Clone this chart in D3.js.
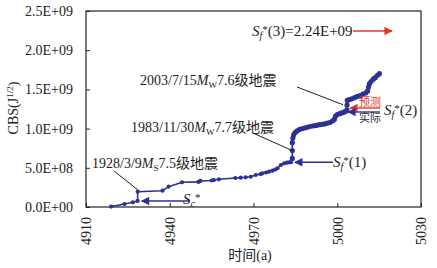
<!DOCTYPE html>
<html>
<head>
<meta charset="utf-8">
<script src="https://cdn.jsdelivr.net/npm/d3@7"></script>
<style>
  body { margin: 0; background: #fff; }
  text { font-family: "Liberation Serif", "Noto Sans CJK SC", serif; }
</style>
</head>
<body>
<div id="chart"></div>
<script>
// year (a) and cumulative Benioff strain
const years = [4919.0, 4923.8, 4926.8, 4928.5, 4928.5, 4937.4, 4939.6, 4944.4, 4950.3, 4951.0,
  4955.0, 4955.8, 4957.6, 4963.5, 4965.4, 4967.2, 4969.0, 4970.8, 4972.5, 4973.2,
  4974.5, 4975.6, 4976.8, 4977.8, 4978.6, 4979.8, 4981.0, 4982.0, 4982.8, 4983.4,
  4983.9, 4983.9, 4983.9, 4984.1, 4984.4, 4984.9, 4985.6, 4986.5, 4987.5, 4988.5,
  4989.5, 4990.5, 4991.5, 4992.5, 4993.5, 4994.5, 4995.5, 4996.5, 4997.5, 4998.4,
  4999.0, 4999.4, 5000.0, 5000.8, 5001.6, 5002.4, 5003.0, 5003.5, 5003.5, 5003.6,
  5004.3, 5005.2, 5006.2, 5007.2, 5008.2, 5009.2, 5010.2, 5010.9, 5011.2, 5011.5,
  5012.1, 5012.9, 5013.6, 5014.4, 5015.1];
const cbs = [0.005, 0.038, 0.06, 0.077, 0.195, 0.208, 0.26, 0.315, 0.32, 0.332,
  0.338, 0.344, 0.353, 0.37, 0.374, 0.379, 0.386, 0.408, 0.42, 0.43,
  0.44, 0.45, 0.463, 0.478, 0.494, 0.536, 0.557, 0.565, 0.57, 0.572,
  0.62, 0.72, 0.82, 0.88, 0.92, 0.95, 0.97, 0.99, 1.00, 1.01,
  1.02, 1.03, 1.035, 1.04, 1.05, 1.055, 1.06, 1.07, 1.08, 1.10,
  1.12, 1.16, 1.18, 1.19, 1.20, 1.21, 1.22, 1.24, 1.30, 1.36,
  1.37, 1.38, 1.395, 1.41, 1.42, 1.44, 1.455, 1.48, 1.53, 1.57,
  1.60, 1.63, 1.65, 1.68, 1.70].map(v => v * 1e9);

const xTicks = [4910, 4940, 4970, 5000, 5030];
const yTicks = [0, 5e8, 1e9, 1.5e9, 2e9, 2.5e9];

// marker levels used by the annotations
const scStar = 0.077e9;
const sf1 = 0.57e9;
const sf2 = 1.24e9;
const sf3 = 2.24e9;

const width = 437, height = 268;
const margin = {top: 11, right: 16, bottom: 61, left: 86};
const blue = "#2d3194", red = "#e0392b";

const svg = d3.select("#chart").append("svg")
  .attr("width", width).attr("height", height);

const x = d3.scaleLinear().domain([4910, 5030]).range([margin.left, width - margin.right]);
const y = d3.scaleLinear().domain([0, 2.5e9]).range([height - margin.bottom, margin.top]);

function sci(d) {
  if (d === 0) return "0.0E+00";
  const e = Math.floor(Math.log10(d));
  const m = d / Math.pow(10, e);
  return m.toFixed(1) + "E+" + String(e).padStart(2, "0");
}

// y axis
const yAxis = svg.append("g")
  .attr("transform", "translate(" + margin.left + ",0)")
  .call(d3.axisLeft(y).tickValues(yTicks).tickFormat(sci).tickSize(-4).tickPadding(13));
yAxis.selectAll("text").style("font-size", "14px").attr("fill", "#222");

// x axis
const xAxis = svg.append("g")
  .attr("transform", "translate(0," + y(0) + ")")
  .call(d3.axisBottom(x).tickValues(xTicks).tickFormat(d3.format("d")).tickSize(-4));
xAxis.selectAll("text")
  .style("font-size", "14px").attr("fill", "#222")
  .attr("transform", "rotate(-90)")
  .attr("text-anchor", "end")
  .attr("x", -10).attr("y", 0).attr("dy", "0.35em");

svg.selectAll(".domain").remove();
svg.selectAll(".tick line").attr("stroke", "#222");

// frame
svg.append("rect")
  .attr("x", x(4910)).attr("y", y(2.5e9))
  .attr("width", x(5030) - x(4910)).attr("height", y(0) - y(2.5e9))
  .attr("fill", "none").attr("stroke", "#222").attr("stroke-width", 1.2);

// axis titles
svg.append("text")
  .attr("x", 250).attr("y", 260)
  .attr("text-anchor", "middle").style("font-size", "14px").attr("fill", "#222")
  .text("时间(a)");

const yt = svg.append("text")
  .attr("transform", "translate(18,108) rotate(-90)")
  .attr("text-anchor", "middle").style("font-size", "14px").attr("fill", "#222");
yt.append("tspan").text("CBS(J");
yt.append("tspan").attr("dy", -5).style("font-size", "9px").text("1/2");
yt.append("tspan").attr("dy", 5).text(")");

// curve
const data = years.map((t, i) => ({t: t, v: cbs[i]}));
svg.append("path")
  .datum(data)
  .attr("fill", "none").attr("stroke", blue).attr("stroke-width", 1.6)
  .attr("d", d3.line().x(d => x(d.t)).y(d => y(d.v)));
svg.selectAll(".pt")
  .data(data).enter().append("circle")
  .attr("class", "pt")
  .attr("cx", d => x(d.t)).attr("cy", d => y(d.v))
  .attr("r", d => d.t > 4983.5 ? 2.6 : 2.1)
  .attr("fill", blue);

// arrowheads
const defs = svg.append("defs");
function marker(id, color) {
  defs.append("marker").attr("id", id)
    .attr("viewBox", "0 0 10 10").attr("refX", 9).attr("refY", 5)
    .attr("markerWidth", 7).attr("markerHeight", 6).attr("orient", "auto")
    .append("path").attr("d", "M0,0L10,5L0,10z").attr("fill", color);
}
marker("ab", blue);
marker("ar", red);

function arrow(x1, x2, yy, color, id) {
  svg.append("line")
    .attr("x1", x1).attr("x2", x2).attr("y1", yy).attr("y2", yy)
    .attr("stroke", color).attr("stroke-width", 1.4)
    .attr("marker-end", "url(#" + id + ")");
}

// S-label helper: S with subscript, star and suffix
function sLabel(xx, yy, sub, suffix) {
  const t = svg.append("text").attr("x", xx).attr("y", yy)
    .style("font-size", "15px").attr("fill", "#222");
  t.append("tspan").style("font-style", "italic").text("S");
  t.append("tspan").style("font-style", "italic").style("font-size", "10px").attr("dy", 3).text(sub);
  t.append("tspan").style("font-size", "11px").attr("dy", -6).text("*");
  t.append("tspan").attr("dy", 3).text(suffix);
  return t;
}

// Sc*
arrow(x(4947), x(4928.5) + 4, y(scStar), blue, "ab");
sLabel(183, y(scStar) + 3, "c", "");

// Sf*(1)
arrow(x(4998.5), x(4983.4) + 4, y(sf1), blue, "ab");
sLabel(333, y(sf1) + 5, "f", "(1)");

// Sf*(2): predicted (red) and actual (blue)
arrow(380, x(5003.5) + 3, 108, red, "ar");
arrow(380, x(5003.5) + 1, 112, blue, "ab");
svg.append("text").attr("x", 370).attr("y", 106).attr("text-anchor", "middle")
  .style("font-size", "11px").attr("fill", red).text("预测");
svg.append("text").attr("x", 370).attr("y", 122).attr("text-anchor", "middle")
  .style("font-size", "11px").attr("fill", "#333").text("实际");
sLabel(384, 115, "f", "(2)");

// Sf*(3)
sLabel(252, 36, "f", "(3)=" + sf3.toExponential(2).toUpperCase().replace("E+9", "E+09"));
arrow(353, 392, 31, red, "ar");

// quake labels with leader lines
function quake(xx, yy, date, sub, mag, lx1, ly1, lx2, ly2) {
  const t = svg.append("text").attr("x", xx).attr("y", yy)
    .style("font-size", "14px").attr("fill", "#222");
  t.append("tspan").text(date);
  t.append("tspan").style("font-style", "italic").text("M");
  t.append("tspan").style("font-size", "9px").attr("dy", 3).text(sub);
  t.append("tspan").attr("dy", -3).text(mag + "级地震");
  svg.append("line").attr("x1", lx1).attr("y1", ly1).attr("x2", lx2).attr("y2", ly2)
    .attr("stroke", "#222").attr("stroke-width", 1);
}
quake(92, 168, "1928/3/9", "S", "7.5", 114, 171, x(4928.5), y(0.195e9) - 2);
quake(131, 132, "1983/11/30", "W", "7.7", 255, 134, x(4983.9), y(0.72e9));
quake(140, 85, "2003/7/15", "W", "7.6", 297, 87, x(5003.5) - 4, y(1.33e9) + 2);
</script>
</body>
</html>
